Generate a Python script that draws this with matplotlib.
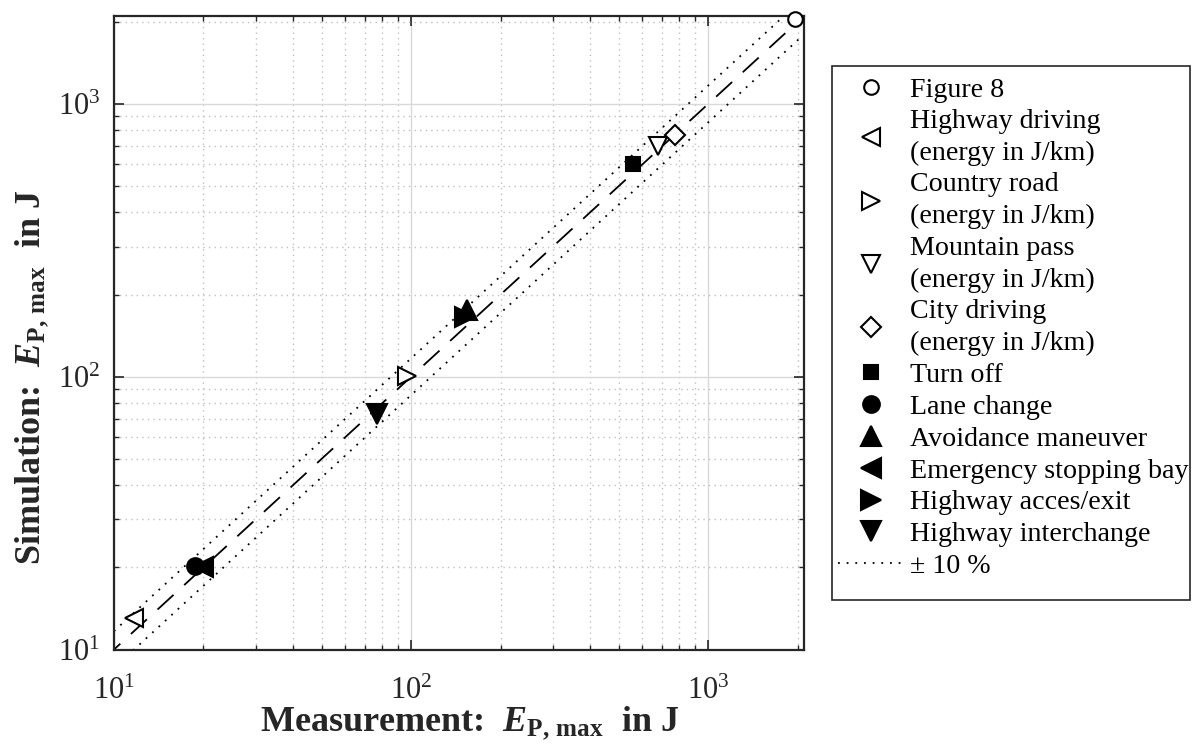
import matplotlib
matplotlib.use("Agg")
import matplotlib.pyplot as plt
from matplotlib.patches import Rectangle
import numpy as np

plt.rcParams['font.family'] = ['Liberation Serif', 'DejaVu Serif']
plt.rcParams['mathtext.fontset'] = 'custom'
plt.rcParams['mathtext.rm'] = 'Liberation Serif'
plt.rcParams['mathtext.it'] = 'Liberation Serif:italic:bold'
plt.rcParams['mathtext.bf'] = 'Liberation Serif:bold'

# ---- data (measurement x, simulation y) ----
labels = ["Figure 8",
          "Highway driving\n(energy in J/km)",
          "Country road\n(energy in J/km)",
          "Mountain pass\n(energy in J/km)",
          "City driving\n(energy in J/km)",
          "Turn off",
          "Lane change",
          "Avoidance maneuver",
          "Emergency stopping bay",
          "Highway acces/exit",
          "Highway interchange"]
meas_x = [1958, 11.7, 97, 680, 775, 560, 18.7, 154, 20.0, 152, 77]
sim_y  = [2050, 13.1, 101, 703, 768, 600, 20.3, 176, 20.0, 166, 73]
markers = ['o', '<', '>', 'v', 'D', 's', 'o', '^', '<', '>', 'v']
filled  = [False, False, False, False, False, True, True, True, True, True, True]
msizes  = [10.5, 13, 13, 13, 10, 10, 12, 14, 14, 14, 14]

band_factor = 1.168   # dotted band drawn in the reference ("± 10 %")
lim = [10, 2100]

fig = plt.figure(figsize=(11.95, 7.51), dpi=100)
ax = fig.add_axes([114/1195, 1-649.5/751, 690/1195, 633.5/751])
ax.set_xscale('log')
ax.set_yscale('log')

xx = np.geomspace(lim[0] / 2, lim[1] * 2, 50)
ax.plot(xx, xx, color='black', lw=1.3, linestyle=(0, (12, 8)), zorder=2)

for lab, x, y, m, f, s in zip(labels, meas_x, sim_y, markers, filled, msizes):
    ax.plot([x], [y], linestyle='none', marker=m, markersize=s,
            markerfacecolor='black' if f else 'white',
            markeredgecolor='black', markeredgewidth=1.5, label=lab, zorder=3,
            clip_on=False)

ax.plot(xx, xx * band_factor, color='black', lw=1.3, linestyle=(0, (1, 3.8)),
        label="± 10 %", zorder=2)
ax.plot(xx, xx / band_factor, color='black', lw=1.3, linestyle=(0, (1, 3.8)),
        zorder=2)

ax.set_xlim(lim)
ax.set_ylim(lim)

ax.grid(True, which='major', color='#d9d9d9', lw=1, linestyle='-')
ax.grid(True, which='minor', color='#c0c0c0', lw=1, linestyle=(0, (1, 3)))
ax.set_axisbelow(True)
ax.tick_params(which='both', direction='in', top=True, right=True,
               labelsize=22, color='#262626', labelcolor='#262626')
ax.tick_params(which='major', length=7, width=1.2)
ax.tick_params(which='minor', length=3.5, width=1)
ax.tick_params(axis='x', which='major', pad=20)
ax.tick_params(axis='y', which='major', pad=10)
for sp in ax.spines.values():
    sp.set_linewidth(1.6)
    sp.set_color('#262626')

ax.set_xlabel(r"Measurement:  $E_{\mathbf{P,\,max}}$  in J", fontsize=26,
              fontweight='bold', color='#262626')
ax.set_ylabel(r"Simulation:  $E_{\mathbf{P,\,max}}$  in J", fontsize=26,
              fontweight='bold', color='#262626')
ax.xaxis.set_label_coords(0.515, -0.087)
ax.yaxis.set_label_coords(-0.092, 0.43)

# legend frame drawn at the reference position
fig.patches.append(Rectangle((832/1195, 1-600/751), (1190-832)/1195, (600-66)/751,
                             transform=fig.transFigure, facecolor='white',
                             edgecolor='#262626', lw=1.2, zorder=0))

h, l = ax.get_legend_handles_labels()
leg = fig.legend(h, l, loc='upper left', bbox_to_anchor=(838/1195, 1-77/751),
                 borderaxespad=0, fontsize=20.2, numpoints=1,
                 handlelength=2.35, handletextpad=0.22, labelspacing=0.22,
                 borderpad=0.0, frameon=False)
for t in leg.get_texts():
    t.set_linespacing(1.37)

fig.savefig("out.png", dpi=100)
